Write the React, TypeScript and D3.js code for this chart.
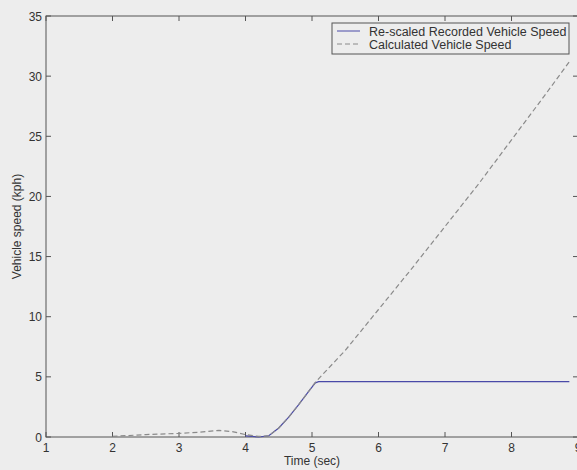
import React, { useEffect } from "react";
import * as d3 from "d3";

const W = 577;
const H = 470;

// Re-scaled recorded vehicle speed (solid)
const recTime = [4.0, 4.1, 4.2, 4.35, 4.5, 4.65, 4.8, 4.95, 5.05, 5.1, 8.87];
const recSpeed = [0.1, 0.05, 0.0, 0.1, 0.75, 1.65, 2.7, 3.8, 4.5, 4.6, 4.6];

// Calculated vehicle speed (dashed)
const calcTime = [2.0, 2.5, 3.0, 3.3, 3.6, 3.8, 4.0, 4.2, 4.35, 4.5, 4.65, 4.8, 4.95, 5.05, 5.5, 6.0, 6.5, 7.0, 7.5, 8.0, 8.5, 8.87];
const calcSpeed = [0.05, 0.2, 0.3, 0.4, 0.55, 0.45, 0.2, 0.05, 0.1, 0.75, 1.65, 2.7, 3.8, 4.55, 7.2, 10.6, 14.0, 17.5, 21.0, 24.7, 28.4, 31.2];

const xTicks = [1, 2, 3, 4, 5, 6, 7, 8, 9];
const yTicks = [0, 5, 10, 15, 20, 25, 30, 35];

const legendLabels = ["Re-scaled Recorded Vehicle Speed", "Calculated Vehicle Speed"];

export default function App() {
  useEffect(() => {
    document.body.style.margin = "0";
    document.body.style.background = "#ededed";
  }, []);

  const left = 46, right = 578, top = 16, bottom = 437;
  const x = d3.scaleLinear().domain([1, 9]).range([left, right]);
  const y = d3.scaleLinear().domain([0, 35]).range([bottom, top]);

  const line = d3.line<[number, number]>().x(d => x(d[0])).y(d => y(d[1]));
  const recPath = line(recTime.map((t, i) => [t, recSpeed[i]]) as [number, number][]) || "";
  const calcPath = line(calcTime.map((t, i) => [t, calcSpeed[i]]) as [number, number][]) || "";

  const axisColor = "#555";
  const textColor = "#333";
  const font = "Arial, 'Liberation Sans', sans-serif";
  const tl = 5;

  return (
    <svg width={W} height={H} style={{ position: "absolute", left: 0, top: 0, display: "block" }} fontFamily={font}>
      <rect x={0} y={0} width={W} height={H} fill="#ededed" />
      {/* plot frame */}
      <rect x={left} y={top} width={right - left} height={bottom - top} fill="none" stroke={axisColor} strokeWidth={1} />
      {/* x ticks */}
      {xTicks.map(t => (
        <g key={"x" + t}>
          <line x1={x(t)} x2={x(t)} y1={bottom} y2={bottom - tl} stroke={axisColor} />
          <line x1={x(t)} x2={x(t)} y1={top} y2={top + tl} stroke={axisColor} />
          <text x={x(t)} y={bottom + 15} textAnchor="middle" fontSize={12} fill={textColor}>{t}</text>
        </g>
      ))}
      {/* y ticks */}
      {yTicks.map(t => (
        <g key={"y" + t}>
          <line x1={left} x2={left + tl} y1={y(t)} y2={y(t)} stroke={axisColor} />
          <line x1={right} x2={right - tl} y1={y(t)} y2={y(t)} stroke={axisColor} />
          <text x={left - 4} y={y(t) + 4.5} textAnchor="end" fontSize={12} fill={textColor}>{t}</text>
        </g>
      ))}
      {/* data */}
      <path d={recPath} fill="none" stroke="#4a4aa8" strokeWidth={1.2} />
      <path d={calcPath} fill="none" stroke="#8a8a8a" strokeWidth={1.2} strokeDasharray="5,3" />
      {/* axis labels */}
      <text x={(left + right) / 2} y={465} textAnchor="middle" fontSize={12} fill={textColor}>Time (sec)</text>
      <text transform={`translate(21,${(top + bottom) / 2}) rotate(-90)`} textAnchor="middle" fontSize={12} fill={textColor}>Vehicle speed (kph)</text>
      {/* legend */}
      <rect x={332} y={23} width={237} height={31} fill="#ededed" stroke={axisColor} strokeWidth={1} />
      <line x1={337} x2={360} y1={31} y2={31} stroke="#4a4aa8" strokeWidth={1} />
      <line x1={337} x2={360} y1={44} y2={44} stroke="#8a8a8a" strokeWidth={1} strokeDasharray="5,3" />
      <text x={369} y={35.5} fontSize={12.5} fill={textColor}>{legendLabels[0]}</text>
      <text x={369} y={48.5} fontSize={12.5} fill={textColor}>{legendLabels[1]}</text>
    </svg>
  );
}
